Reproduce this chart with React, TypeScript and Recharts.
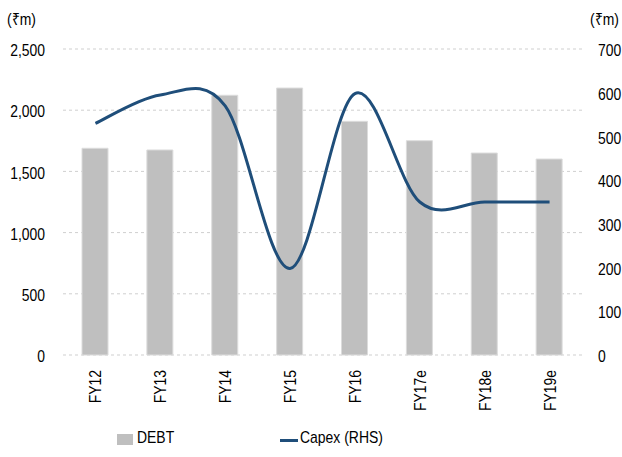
import React from 'react';
import { ComposedChart, Bar, Line, XAxis, YAxis, CartesianGrid, Legend } from 'recharts';

const categories = ['FY12', 'FY13', 'FY14', 'FY15', 'FY16', 'FY17e', 'FY18e', 'FY19e'];
const debt = [1689, 1675, 2122, 2181, 1909, 1751, 1650, 1601];
const capex = [530, 595, 570, 198, 598, 350, 350, 350];
const leftTicks = [0, 500, 1000, 1500, 2000, 2500];
const rightTicks = [0, 100, 200, 300, 400, 500, 600, 700];

const data = categories.map((c, i) => ({ name: c, debt: debt[i], capex: capex[i] }));

const FONT = "'Liberation Sans', Arial, sans-serif";
const FS = 17;
const SX = 0.82;

// Excel-like smoothed line (Catmull-Rom, k = 1/6)
const excelCurve: any = (context: any) => {
  let pts: number[][] = [];
  return {
    areaStart() {},
    areaEnd() {},
    lineStart() { pts = []; },
    point(x: number, y: number) { pts.push([+x, +y]); },
    lineEnd() {
      if (!pts.length) return;
      context.moveTo(pts[0][0], pts[0][1]);
      for (let i = 0; i < pts.length - 1; i++) {
        const p0 = pts[i - 1] || pts[i];
        const p1 = pts[i];
        const p2 = pts[i + 1];
        const p3 = pts[i + 2] || p2;
        context.bezierCurveTo(
          p1[0] + (p2[0] - p0[0]) / 6,
          p1[1] + (p2[1] - p0[1]) / 6,
          p2[0] - (p3[0] - p1[0]) / 6,
          p2[1] - (p3[1] - p1[1]) / 6,
          p2[0],
          p2[1]
        );
      }
    },
  };
};

const XTick = (props: any) => {
  const { x, y, payload } = props;
  return (
    <text
      transform={`translate(${x + 6},${y + 15}) rotate(-90) scale(${SX},1)`}
      textAnchor="end"
      fontFamily={FONT}
      fontSize={FS}
      fill="#000"
    >
      {payload.value}
    </text>
  );
};

const LeftTick = (props: any) => {
  const { x, y, payload } = props;
  return (
    <text
      transform={`translate(${x},${y}) scale(${SX},1)`}
      dy="0.42em"
      textAnchor="end"
      fontFamily={FONT}
      fontSize={FS}
      fill="#000"
    >
      {Number(payload.value).toLocaleString('en-US')}
    </text>
  );
};

const RightTick = (props: any) => {
  const { x, y, payload } = props;
  return (
    <text
      transform={`translate(${x},${y}) scale(${SX},1)`}
      dy="0.42em"
      textAnchor="start"
      fontFamily={FONT}
      fontSize={FS}
      fill="#000"
    >
      {payload.value}
    </text>
  );
};

const unitLabel = (x: number) => () => (
  <text transform={`translate(${x},25) scale(${SX},1)`} fontFamily={FONT} fontSize={FS} fill="#000">(₹m)</text>
);

const narrow: React.CSSProperties = {
  position: 'absolute',
  top: 3,
  lineHeight: '20px',
  whiteSpace: 'nowrap',
  transform: `scaleX(${SX})`,
  transformOrigin: 'left center',
};

const LegendContent = () => (
  <div style={{ position: 'relative', width: 622, height: 32, fontFamily: FONT, fontSize: FS, color: '#000' }}>
    <div style={{ position: 'absolute', left: 117, top: 9, width: 16, height: 11, background: '#bfbfbf' }} />
    <div style={{ ...narrow, left: 137 }}>DEBT</div>
    <div style={{ position: 'absolute', left: 280, top: 14, width: 18, height: 3, background: '#1f4e7a' }} />
    <div style={{ ...narrow, left: 300 }}>Capex (RHS)</div>
  </div>
);

export default function App() {
  return (
    <div style={{ position: 'absolute', left: 0, top: 0, background: '#fff' }}>
      <ComposedChart width={622} height={457} data={data} margin={{ top: 49, right: 0, left: 0, bottom: 0 }}>
        <CartesianGrid yAxisId="left" vertical={false} stroke="#cfcfcf" strokeDasharray="3 3" />
        <XAxis
          dataKey="name"
          axisLine={false}
          tickLine={false}
          tickSize={0}
          tickMargin={0}
          height={70}
          interval={0}
          tick={<XTick />}
        />
        <YAxis
          yAxisId="left"
          orientation="left"
          width={63}
          domain={[0, 2500]}
          ticks={leftTicks}
          axisLine={false}
          tickLine={false}
          tickSize={0}
          tickMargin={18}
          tick={<LeftTick />}
          label={unitLabel(7)}
        />
        <YAxis
          yAxisId="right"
          orientation="right"
          width={40}
          domain={[0, 700]}
          ticks={rightTicks}
          axisLine={false}
          tickLine={false}
          tickSize={0}
          tickMargin={16}
          tick={<RightTick />}
          label={unitLabel(590)}
        />
        <Legend verticalAlign="bottom" height={32} content={<LegendContent />} wrapperStyle={{ left: 0, width: 622, bottom: 0 }} />
        <Bar yAxisId="left" dataKey="debt" name="DEBT" fill="#bfbfbf" stroke="#dcdcdc" strokeWidth={1} barSize={26} isAnimationActive={false} />
        <Line
          yAxisId="right"
          dataKey="capex"
          name="Capex (RHS)"
          type={excelCurve}
          stroke="#1f4e7a"
          strokeWidth={3}
          dot={false}
          activeDot={false}
          isAnimationActive={false}
        />
      </ComposedChart>
    </div>
  );
}
